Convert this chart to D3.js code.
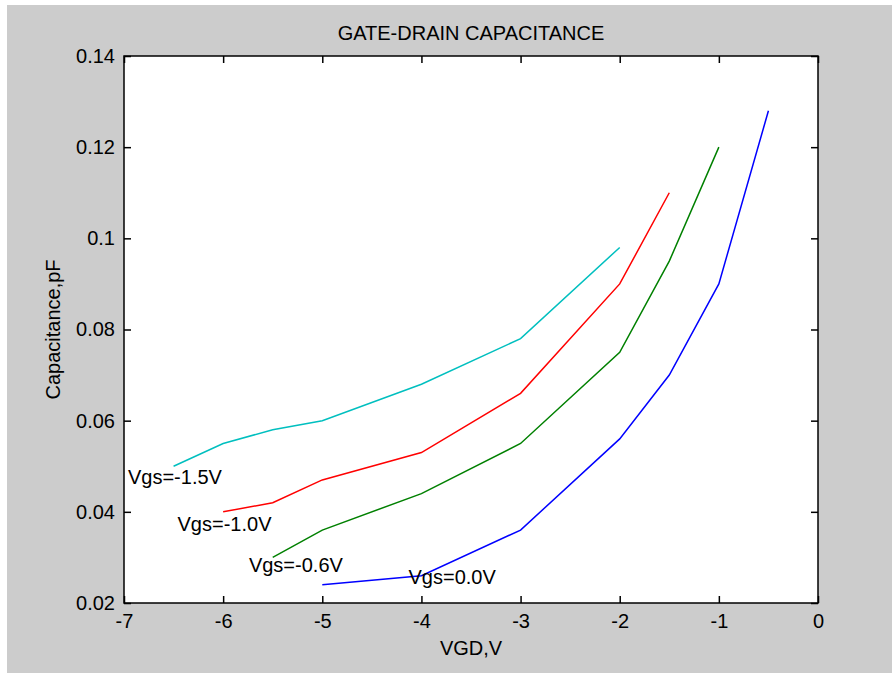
<!DOCTYPE html>
<html><head><meta charset="utf-8">
<script src="https://cdn.jsdelivr.net/npm/d3@7"></script>
<style>
html,body{margin:0;padding:0;background:#fff;}
svg text{font-family:"Liberation Sans",Arial,Helvetica,sans-serif;fill:#000;}
</style></head>
<body>
<svg id="chart" width="892" height="673"></svg>
<script>
const seriesNames = ["Vgs=0.0V","Vgs=-0.6V","Vgs=-1.0V","Vgs=-1.5V"];
const seriesColors = ["#0000ff","#008000","#ff0000","#00bfbf"];
const vgdBlue  = [-5,-4,-3,-2,-1.5,-1,-0.5];
const capBlue  = [0.024,0.026,0.036,0.056,0.070,0.090,0.128];
const vgdGreen = [-5.5,-5,-4,-3,-2,-1.5,-1];
const capGreen = [0.030,0.036,0.044,0.055,0.075,0.095,0.120];
const vgdRed   = [-6,-5.5,-5,-4,-3,-2,-1.5];
const capRed   = [0.040,0.042,0.047,0.053,0.066,0.090,0.110];
const vgdCyan  = [-6.5,-6,-5.5,-5,-4,-3,-2];
const capCyan  = [0.050,0.055,0.058,0.060,0.068,0.078,0.098];
const labelX = [-4.13,-5.74,-6.46,-6.96];
const labelY = [0.0258,0.0283,0.0373,0.0477];
const xTicks = [-7,-6,-5,-4,-3,-2,-1,0];
const xTickLabels = ["-7","-6","-5","-4","-3","-2","-1","0"];
const yTicks = [0.02,0.04,0.06,0.08,0.1,0.12,0.14];
const yTickLabels = ["0.02","0.04","0.06","0.08","0.1","0.12","0.14"];

const svg = d3.select("#chart");
svg.append("rect").attr("x",7).attr("y",5).attr("width",885).attr("height",668).attr("fill","#cccccc");

const L=124,R=818,T=56,B=603;
const x = d3.scaleLinear().domain([-7,0]).range([L,R]);
const y = d3.scaleLinear().domain([0.02,0.14]).range([B,T]);

svg.append("rect").attr("x",L).attr("y",T).attr("width",R-L).attr("height",B-T).attr("fill","#fff");

const series = [[vgdBlue,capBlue],[vgdGreen,capGreen],[vgdRed,capRed],[vgdCyan,capCyan]];
const line = d3.line().x(d=>x(d[0])).y(d=>y(d[1]));
series.forEach((s,i)=>{
  const pts = s[0].map((v,j)=>[v,s[1][j]]);
  svg.append("path").attr("d",line(pts)).attr("fill","none")
    .attr("stroke",seriesColors[i]).attr("stroke-width",1.5);
});

const fs = "20px";
const tk = 7;
svg.append("g").attr("transform",`translate(0,${B})`)
  .call(d3.axisBottom(x).tickValues(xTicks).tickSize(-tk).tickFormat((d,i)=>xTickLabels[i]))
  .call(g=>{g.select(".domain").remove();g.selectAll("text").style("font-size",fs).attr("dy","0.71em").attr("y",11);});
svg.append("g").attr("transform",`translate(0,${T})`)
  .call(d3.axisTop(x).tickValues(xTicks).tickSize(-tk).tickFormat(""))
  .call(g=>g.select(".domain").remove());
svg.append("g").attr("transform",`translate(${L},0)`)
  .call(d3.axisLeft(y).tickValues(yTicks).tickSize(-tk).tickPadding(9).tickFormat((d,i)=>yTickLabels[i]))
  .call(g=>{g.select(".domain").remove();g.selectAll("text").style("font-size",fs);});
svg.append("g").attr("transform",`translate(${R},0)`)
  .call(d3.axisRight(y).tickValues(yTicks).tickSize(-tk).tickFormat(""))
  .call(g=>g.select(".domain").remove());
svg.selectAll(".tick line").attr("stroke","#000").attr("stroke-width",1.5);
svg.append("rect").attr("x",L).attr("y",T).attr("width",R-L).attr("height",B-T)
  .attr("fill","none").attr("stroke","#000").attr("stroke-width",1.5);

seriesNames.forEach((n,i)=>{
  svg.append("text").attr("x",x(labelX[i])).attr("y",y(labelY[i])).attr("dy","0.36em")
    .style("font-size",fs).text(n);
});

svg.append("text").attr("x",(L+R)/2).attr("y",40).attr("text-anchor","middle")
  .style("font-size",fs).text("GATE-DRAIN CAPACITANCE");
svg.append("text").attr("x",(L+R)/2).attr("y",655).attr("text-anchor","middle")
  .style("font-size",fs).text("VGD,V");
svg.append("text").attr("transform",`translate(60,${(T+B)/2}) rotate(-90)`).attr("text-anchor","middle")
  .style("font-size",fs).text("Capacitance,pF");
</script>
</body></html>
